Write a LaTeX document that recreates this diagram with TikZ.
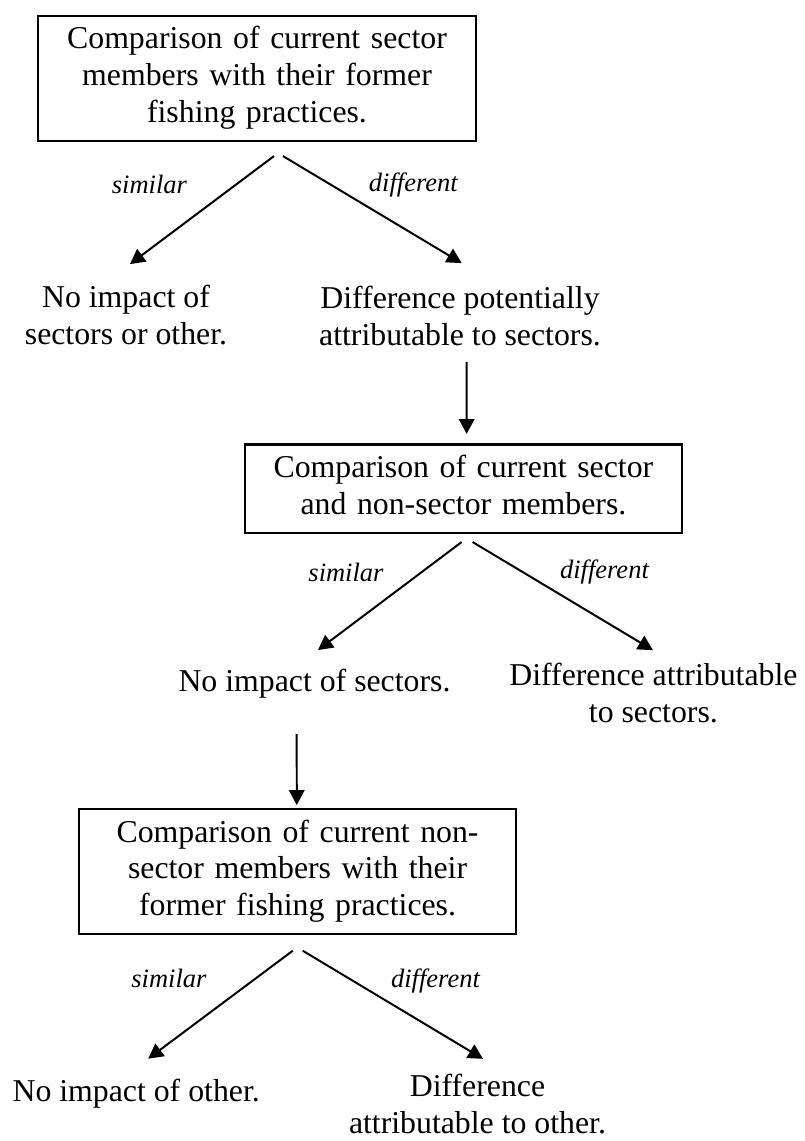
\documentclass[tikz,border=0pt]{standalone}
\usepackage{fontspec}
\setmainfont{Liberation Serif}
\usetikzlibrary{positioning}
\usetikzlibrary{arrows.meta}
\tikzset{
  cmpbox/.style= {
    rectangle,
    draw,
    line width = 0.8pt,
    text width = 150pt,
    align = center,
    inner xsep = 7.5pt,
    inner ysep = 2.9pt,
    font = \fontsize{12}{13.8}\selectfont,
    execute at begin node = \strut,
    execute at end node = \strut
  },
  outcome/.style= {
    align = center,
    inner sep = 0pt,
    font = \fontsize{12}{13.8}\selectfont,
    execute at begin node = \strut,
    execute at end node = \strut
  },
  branchlab/.style= {
    inner sep = 2pt,
    font = \fontsize{10}{12}\selectfont\itshape
  },
  flow/.style= {
    line width = 0.75pt,
    -{Triangle[length=5.6pt,width=5.8pt]}
  }
}

\begin{document}
\begin{tikzpicture}

  \useasboundingbox (-96.99pt,29.51pt) rectangle (206.44pt,-401.1pt);

  % first comparison
  \node[cmpbox] (cmp1) {Comparison of current sector\\ members with their former\\ fishing practices.};
  \node[outcome,below=53.97pt of cmp1,xshift=-49.44pt] (noimp1) {No impact of\\ sectors or other.};
  \node[outcome,below=54.35pt of cmp1,xshift=76.61pt] (diff1) {Difference potentially\\ attributable to sectors.};
  \draw[flow] ([xshift=6.42pt,yshift=-5.4pt]cmp1.south) -- ([xshift=1.51pt,yshift=7.81pt]noimp1.north)
    node[midway,above left=3.9pt and 3.3pt,branchlab] (sim1) {similar};
  \draw[flow] ([xshift=9.81pt,yshift=-5.4pt]cmp1.south) -- ([xshift=0.64pt,yshift=8.57pt]diff1.north)
    node[pos=0.446,above right,branchlab] (dif1) {different};

  % sector vs non-sector
  \node[cmpbox,below=32.7pt of diff1,xshift=1.3pt] (cmp2) {Comparison of current sector\\ and non-sector members.};
  \draw[flow] ([xshift=2.53pt,yshift=-1.96pt]diff1.south) -- ([xshift=1.21pt,yshift=3.59pt]cmp2.north);
  \node[outcome,below=49.7pt of cmp2,xshift=-56.2pt] (noimp2) {No impact of sectors.};
  \node[outcome,below=48.6pt of cmp2,xshift=71.7pt] (diff2) {Difference attributable\\ to sectors.};
  \draw[flow] ([xshift=-0.68pt,yshift=-3.02pt]cmp2.south) -- ([xshift=1.32pt,yshift=5.93pt]noimp2.north)
    node[midway,above left=3pt and 0pt,branchlab] (sim2) {similar};
  \draw[flow] ([xshift=3.47pt,yshift=-3.02pt]cmp2.south) -- ([xshift=-0.19pt,yshift=4.79pt]diff2.north)
    node[pos=0.45,above right,branchlab] (dif2) {different};

  % non-sector members over time
  \node[cmpbox,below=39.5pt of noimp2,xshift=-6.4pt] (cmp3) {Comparison of current non-\\ sector members with their\\ former fishing practices.};
  \draw[flow] ([xshift=-6.72pt,yshift=-11.59pt]noimp2.south) -- ([xshift=-0.3pt,yshift=1.13pt]cmp3.north);
  \node[outcome,below=52.9pt of cmp3,xshift=-60.9pt] (noimp3) {No impact of other.};
  \node[outcome,below=52.2pt of cmp3,xshift=67.9pt] (diff3) {Difference\\ attributable to other.};
  \draw[flow] ([xshift=-1.81pt,yshift=-5.85pt]cmp3.south) -- ([xshift=4.53pt,yshift=6.3pt]noimp3.north)
    node[midway,above left=3.9pt and 2.9pt,branchlab] (sim3) {similar};
  \draw[flow] ([xshift=1.96pt,yshift=-5.85pt]cmp3.south) -- ([xshift=2.08pt,yshift=5.55pt]diff3.north)
    node[pos=0.455,above right,branchlab] (dif3) {different};

\end{tikzpicture}
\end{document}
